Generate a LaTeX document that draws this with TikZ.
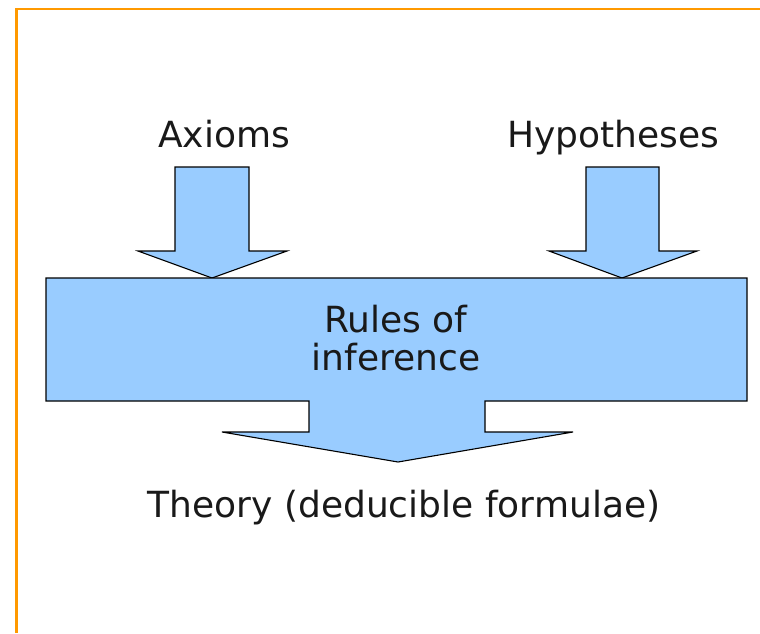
\documentclass[tikz,border=0pt]{standalone}
\usepackage{fontspec}
\setmainfont{DejaVu Sans}
\definecolor{arrowblue}{HTML}{99CCFF}
\definecolor{frameorange}{HTML}{FF9900}
\begin{document}
\begin{tikzpicture}[x=1pt,y=-1pt,
  bluearrow/.style={fill=arrowblue,draw=black,line width=1.1pt,line join=miter},
  lbl/.style={font=\fontsize{36}{38}\selectfont,text=black!90,inner sep=0pt,align=center,anchor=base}]
\useasboundingbox (0,0) rectangle (760,633);
\draw[frameorange,line width=2.5pt] (16.5,633) -- (16.5,9) -- (760,9);
% Axioms arrow
\draw[bluearrow] (175,167) -- (249,167) -- (249,251) -- (287,251) -- (212,278) -- (138,251) -- (175,251) -- cycle;
% Hypotheses arrow
\draw[bluearrow] (586,167) -- (659,167) -- (659,251) -- (697,251) -- (622,278) -- (549,251) -- (586,251) -- cycle;
% Rules box with output arrow
\draw[bluearrow] (46,278) -- (747,278) -- (747,401) -- (485,401) -- (485,432) -- (573,432) -- (398,462) -- (222,432) -- (309,432) -- (309,401) -- (46,401) -- cycle;
\node[lbl] (ax) at (224,147) {Axioms};
\node[lbl] (hy) at (613,147) {Hypotheses};
\node[lbl] (ru) at (396,370) {Rules of\\inference};
\node[lbl] (th) at (404,517) {Theory (deducible formulae)};
\end{tikzpicture}
\end{document}
